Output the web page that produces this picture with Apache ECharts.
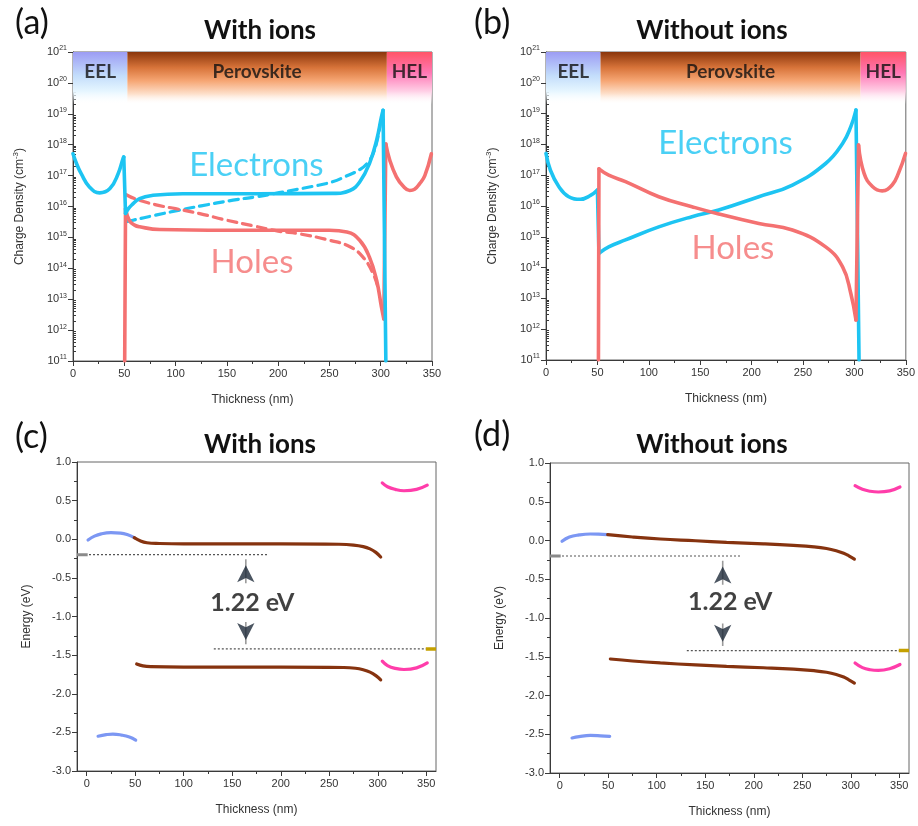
<!DOCTYPE html>
<html>
<head>
<meta charset="utf-8">
<script src="https://cdn.jsdelivr.net/npm/echarts@6/dist/echarts.min.js"></script>
<style>
  html, body { margin: 0; padding: 0; background: #fff; }
  #chart { width: 918px; height: 826px; }
</style>
</head>
<body>
<div id="chart"></div>
<script>
// ---------- axis ticks ----------
const thicknessTicks = [0, 50, 100, 150, 200, 250, 300, 350];
const thicknessMinorTicks = [25, 75, 125, 175, 225, 275, 325];
// top decade nudged just inside the axis extent so it is not clipped
const densityDecades = [1e11, 1e12, 1e13, 1e14, 1e15, 1e16, 1e17, 1e18, 1e19, 1e20, 0.99999e21];

// ---------- layer boundaries (nm) ----------
const layerNames = ['EEL', 'Perovskite', 'HEL'];
const layerEdges = [0, 53, 306, 350];

// ---------- (a) charge density with ions: [thickness nm, cm^-3] ----------
const electronsIonsEEL = [[0, 5.1e17], [4, 2.2e17], [8, 1.15e17], [16, 4.3e16], [26, 2.75e16], [36, 3.8e16], [44, 1.15e17], [48.7, 3.5e17], [49.5, 4.0e17]];
const electronsIonsPvk = [[51.2, 6.0e15], [54, 8.5e15], [57, 1.1e16], [65, 1.8e16], [78, 2.3e16], [107, 2.6e16], [180, 2.6e16], [253, 2.65e16], [270, 3.3e16], [279.5, 6.2e16], [289, 2.45e17], [296, 1.4e18], [300.7, 7.9e18], [302.3, 1.3e19]];
const electronsIonsEnd = [[305, 1e11]];
const holesIonsStart = [[50.4, 1e11]];
const holesIonsPvk = [[51.2, 8.5e15], [55, 3.5e15], [60, 2.5e15], [65, 2.2e15], [84.5, 1.8e15], [150, 1.7e15], [250, 1.7e15], [267, 1.5e15], [279.5, 8.1e14], [289, 2.3e14], [296, 4.1e13], [300.7, 5.6e12], [303, 2.3e12]];
const holesIonsHEL = [[305, 1.05e18], [308.8, 3.2e17], [315.3, 9.1e16], [322, 4.5e16], [328.3, 3.3e16], [333, 3.6e16], [338, 5.5e16], [343, 1.0e17], [349.4, 5.1e17]];
// dashed reference profiles inside the perovskite
const electronsRef = [[52, 3.2e15], [58.5, 3.6e15], [80, 5.2e15], [100, 7.2e15], [125, 1.05e16], [156, 1.6e16], [180, 2.1e16], [201, 2.8e16], [234, 4.5e16], [253, 6.3e16], [266, 9.5e16], [280, 1.6e17], [288, 2.8e17], [293, 5.6e17], [297, 1.6e18], [299.5, 4.5e18]];
const holesRef = [[52, 2.4e16], [60, 1.8e16], [80, 1.15e16], [100, 8.5e15], [123.5, 5.9e15], [150, 3.6e15], [175, 2.4e15], [200, 1.6e15], [221, 1.3e15], [250, 8.1e14], [270, 5.0e14], [282.7, 2.3e14], [292.5, 6.8e13], [298, 2.0e13]];

// ---------- (b) charge density without ions ----------
const electronsNoIonsEEL = [[0, 5.1e17], [4.3, 1.45e17], [12.4, 4.3e16], [22.1, 2.0e16], [33.5, 1.65e16], [43.3, 2.2e16], [50, 3.3e16]];
const electronsNoIonsPvk = [[51.5, 2.9e14], [61, 4.7e14], [77.3, 7.9e14], [109.7, 2.1e15], [142, 4.5e15], [168, 7.4e15], [207, 2.0e16], [239.7, 4.8e16], [272, 2.4e17], [288.5, 1.07e18], [296.4, 3.7e18], [301.5, 1.3e19]];
const electronsNoIonsEnd = [[304.5, 1e11]];
const holesNoIonsStart = [[51, 1e11]];
const holesNoIonsPvk = [[51.5, 1.6e17], [61, 1.0e17], [77.3, 6.2e16], [109.7, 2.0e16], [142, 9.5e15], [168, 5.5e15], [207, 2.7e15], [239.7, 1.66e15], [272, 4.7e14], [288.5, 1.05e14], [296.4, 1.5e13], [301.5, 2.0e12]];
const holesNoIonsHEL = [[304, 9.5e17], [309.4, 1.15e17], [317.5, 4.3e16], [327, 3.1e16], [336.7, 4.8e16], [343, 1.2e17], [349.7, 5.1e17]];

// ---------- (c) band diagram with ions: [thickness nm, eV] ----------
const eelCbIons = [[1.4, -0.01], [8, 0.04], [15, 0.07], [25, 0.085], [35, 0.08], [43, 0.055], [49, 0.02]];
const eelVbIons = [[11.7, -2.55], [20, -2.53], [27, -2.522], [36, -2.535], [44, -2.56], [50.5, -2.6]];
const pvkCbIons = [[49, 0.02], [55, -0.02], [62, -0.045], [75, -0.055], [100, -0.06], [200, -0.06], [260, -0.065], [275, -0.075], [285, -0.095], [292, -0.125], [298, -0.17], [303, -0.23]];
const pvkVbIons = [[51.5, -1.615], [58, -1.64], [66, -1.65], [100, -1.655], [200, -1.655], [265, -1.66], [277, -1.67], [285, -1.69], [292, -1.72], [298, -1.765], [303, -1.82]];
const helCbIons = [[304.6, 0.73], [310, 0.68], [318, 0.645], [327, 0.628], [340, 0.645], [351, 0.70]];
const helVbIons = [[304.6, -1.578], [310, -1.635], [318, -1.672], [327, -1.686], [340, -1.665], [351, -1.60]];

// ---------- (d) band diagram without ions ----------
const eelCbNoIons = [[2.4, -0.01], [10, 0.045], [20, 0.072], [31.6, 0.084], [40, 0.082], [48.8, 0.075]];
const eelVbNoIons = [[12.7, -2.548], [20, -2.53], [31.6, -2.515], [42, -2.52], [51.5, -2.528]];
const pvkCbNoIons = [[49.5, 0.075], [75, 0.045], [103.7, 0.019], [140, -0.003], [172, -0.024], [210, -0.043], [241, -0.063], [262, -0.082], [275, -0.103], [285, -0.132], [292.7, -0.165], [298, -0.198], [303.7, -0.24]];
const pvkVbNoIons = [[52.2, -1.529], [75, -1.555], [103.7, -1.58], [140, -1.605], [172, -1.624], [210, -1.642], [241, -1.66], [262, -1.68], [275, -1.70], [285, -1.728], [292.7, -1.762], [298, -1.797], [303.7, -1.84]];
const helCbNoIons = [[304.4, 0.707], [312, 0.66], [320, 0.635], [328.4, 0.626], [340, 0.64], [350.7, 0.69]];
const helVbNoIons = [[304.4, -1.58], [312, -1.64], [320, -1.668], [328.4, -1.676], [340, -1.655], [350.7, -1.60]];

// quasi-Fermi levels (eV) and the gap between them
const fermiElectron = -0.20;
const fermiHole = -1.42;
const splitLabel = '1.22 eV';
const fermiElectronSpan = [-10, 186];
const fermiHoleSpan = [131, 360];

// ---------- styling ----------
const CYAN = '#1DC4F2';
const SALMON = '#F47171';
const BLUE = '#7C97F3';
const BROWN = '#86330F';
const PINK = '#FF3DAA';
const AXIS = '#3a3a3a';
const tickFont = { color: '#333', fontFamily: 'Liberation Sans', fontSize: 11 };

const grids = [
  { left: 73, top: 52, width: 359, height: 309 },
  { left: 546, top: 52, width: 360, height: 308 },
  { left: 77, top: 462, width: 359, height: 309 },
  { left: 550, top: 463, width: 359, height: 310 }
].map(g => Object.assign({ show: true, borderColor: '#666', borderWidth: 1, backgroundColor: 'transparent' }, g));

function nameStyle() {
  return { color: '#333', fontFamily: 'Liberation Sans', fontSize: 12,
    rich: { sup: { color: '#333', fontFamily: 'Liberation Sans', fontSize: 8, padding: [0, 0, 7, 0] } } };
}

function thicknessAxisLinear(gi) {
  return {
    type: 'value', gridIndex: gi, position: 'bottom', min: 0, max: 350, interval: 50,
    name: 'Thickness (nm)', nameLocation: 'middle', nameGap: 33, nameTextStyle: nameStyle(),
    axisLine: { onZero: false, lineStyle: { color: AXIS } },
    axisTick: { length: 5, lineStyle: { color: AXIS } },
    minorTick: { show: true, splitNumber: 2, length: 3, lineStyle: { color: AXIS } },
    axisLabel: Object.assign({ margin: 7 }, tickFont),
    splitLine: { show: false }
  };
}
function thicknessAxisPadded(gi) {
  return {
    type: 'value', gridIndex: gi, position: 'bottom', min: -10, max: 360,
    name: 'Thickness (nm)', nameLocation: 'middle', nameGap: 33, nameTextStyle: nameStyle(),
    axisLine: { onZero: false, lineStyle: { color: AXIS } },
    axisTick: { length: 5, customValues: thicknessTicks, lineStyle: { color: AXIS } },
    axisLabel: Object.assign({ margin: 7, customValues: thicknessTicks }, tickFont),
    splitLine: { show: false }
  };
}
function thicknessMinorAxis(gi) {
  return {
    type: 'value', gridIndex: gi, position: 'bottom', min: -10, max: 360,
    axisLine: { show: false, onZero: false },
    axisTick: { length: 3, customValues: thicknessMinorTicks, lineStyle: { color: AXIS } },
    axisLabel: { show: false, customValues: thicknessMinorTicks },
    splitLine: { show: false }
  };
}

const logMinorValues = [];
for (let e = 11; e < 21; e++) for (let m = 2; m <= 9; m++) logMinorValues.push(m * Math.pow(10, e));

function densityAxis(gi) {
  return {
    type: 'log', logBase: 10, gridIndex: gi, position: 'left', min: 1e11, max: 1e21,
    name: 'Charge Density (cm{sup|-3})', nameLocation: 'middle', nameGap: 46, nameTextStyle: nameStyle(),
    axisLine: { onZero: false, lineStyle: { color: AXIS } },
    axisTick: { length: 5, customValues: densityDecades, lineStyle: { color: AXIS } },
    axisLabel: Object.assign({
      margin: 6, customValues: densityDecades,
      formatter: v => '10{s|' + Math.round(Math.log10(v)) + '}',
      rich: { s: { color: '#333', fontFamily: 'Liberation Sans', fontSize: 7, padding: [0, 0, 7, 0] } }
    }, tickFont),
    splitLine: { show: false }
  };
}
function densityMinorAxis(gi) {
  return {
    type: 'log', logBase: 10, gridIndex: gi, position: 'left', min: 1e11, max: 1e21,
    axisLine: { show: false, onZero: false },
    axisTick: { inside: true, length: 3, customValues: logMinorValues, lineStyle: { color: AXIS } },
    axisLabel: { show: false, customValues: densityDecades },
    splitLine: { show: false }
  };
}
function energyAxis(gi) {
  return {
    type: 'value', gridIndex: gi, position: 'left', min: -3, max: 1, interval: 0.5,
    name: 'Energy (eV)', nameLocation: 'middle', nameGap: 44, nameTextStyle: nameStyle(),
    axisLine: { onZero: false, lineStyle: { color: AXIS } },
    axisTick: { length: 5, lineStyle: { color: AXIS } },
    minorTick: { show: true, splitNumber: 2, length: 3, lineStyle: { color: AXIS } },
    axisLabel: Object.assign({ margin: 6, formatter: v => v.toFixed(1) }, tickFont),
    splitLine: { show: false }
  };
}

// x axes: 0 (a), 1 (b), 2 (c), 3 (d), 4 (c minor), 5 (d minor)
const xAxes = [thicknessAxisLinear(0), thicknessAxisLinear(1), thicknessAxisPadded(2), thicknessAxisPadded(3), thicknessMinorAxis(2), thicknessMinorAxis(3)];
// y axes: 0 (a), 1 (b), 2 (c), 3 (d), 4 (a minor), 5 (b minor)
const yAxes = [densityAxis(0), densityAxis(1), energyAxis(2), energyAxis(3), densityMinorAxis(0), densityMinorAxis(1)];

const series = [];

// a curve made of smooth pieces joined by straight steps
function addCurve(ax, pieces, color, width, dash) {
  const base = { type: 'line', xAxisIndex: ax, yAxisIndex: ax, showSymbol: false, symbol: 'none', silent: true, z: 3 };
  pieces.forEach((p, i) => {
    if (p.length > 1) {
      series.push(Object.assign({}, base, { data: p, smooth: 0.45,
        lineStyle: { color, width, type: dash || 'solid', cap: 'round', join: 'round' } }));
    }
    if (i < pieces.length - 1) {
      series.push(Object.assign({}, base, { data: [p[p.length - 1], pieces[i + 1][0]], smooth: false,
        lineStyle: { color, width, type: dash || 'solid', cap: 'round', join: 'round' } }));
    }
  });
}

function textMarks(ax, items, style) {
  series.push({
    type: 'scatter', xAxisIndex: ax, yAxisIndex: ax, symbolSize: 1, silent: true, z: 10,
    itemStyle: { color: 'rgba(0,0,0,0)' },
    data: items.map(d => ({ value: [d[0], d[1]], label: Object.assign({ show: true, position: 'inside', formatter: d[2] }, style) }))
  });
}

// gradient layer strips across the top of the density plots
function layerStrips(ax) {
  const fade = stops => ({ type: 'linear', x: 0, y: 0, x2: 0, y2: 1, colorStops: stops.map(s => ({ offset: s[0], color: s[1] })) });
  const fills = [
    fade([[0, '#9C9CF4'], [0.45, '#C3DDFB'], [0.75, '#E6F6FF'], [1, 'rgba(255,255,255,0)']]),
    fade([[0, '#8A360C'], [0.3, '#D8743A'], [0.55, '#F6A674'], [0.8, '#FDE0CB'], [1, 'rgba(255,255,255,0)']]),
    fade([[0, '#FF5467'], [0.4, '#FF78B5'], [0.75, '#FFD0E6'], [1, 'rgba(255,255,255,0)']])
  ];
  series.push({
    type: 'line', xAxisIndex: ax, yAxisIndex: ax, data: [], silent: true, z: 1,
    markArea: { silent: true, label: { show: false },
      data: fills.map((f, i) => [{ xAxis: layerEdges[i], yAxis: 2e19, itemStyle: { color: f } }, { xAxis: layerEdges[i + 1], yAxis: 1e21 }]) }
  });
  textMarks(ax, layerNames.map((n, i) => [(layerEdges[i] + layerEdges[i + 1]) / 2, 2.2e20, n]),
    { color: '#111', fontFamily: 'Lato', fontWeight: 'bold', fontSize: 19 });
}

// ----- (a) -----
layerStrips(0);
addCurve(0, [electronsRef], CYAN, 3.2, [9, 6]);
addCurve(0, [holesRef], SALMON, 3.2, [9, 6]);
addCurve(0, [holesIonsStart, holesIonsPvk, holesIonsHEL], SALMON, 3.6);
addCurve(0, [electronsIonsEEL, electronsIonsPvk, electronsIonsEnd], CYAN, 3.6);
textMarks(0, [[178.8, 2.1e17, 'Electrons']], { color: CYAN, fontFamily: 'Lato', fontSize: 33 });
textMarks(0, [[174.5, 1.6e14, 'Holes']], { color: SALMON, fontFamily: 'Lato', fontSize: 33 });

// ----- (b) -----
layerStrips(1);
addCurve(1, [electronsNoIonsEEL, electronsNoIonsPvk, electronsNoIonsEnd], CYAN, 3.6);
addCurve(1, [holesNoIonsStart, holesNoIonsPvk, holesNoIonsHEL], SALMON, 3.6);
textMarks(1, [[174.7, 1.1e18, 'Electrons']], { color: CYAN, fontFamily: 'Lato', fontSize: 33 });
textMarks(1, [[181.8, 4.3e14, 'Holes']], { color: SALMON, fontFamily: 'Lato', fontSize: 33 });

// ----- band diagrams -----
function bandPanel(ax, bands, arrowX, labelPos) {
  const [eelCb, eelVb, pvkCb, pvkVb, helCb, helVb] = bands;
  const line = (data, color, width, extra) => series.push(Object.assign({
    type: 'line', xAxisIndex: ax, yAxisIndex: ax, data, showSymbol: false, symbol: 'none', silent: true, z: 3,
    smooth: 0.45, lineStyle: { color, width, cap: 'round' }
  }, extra || {}));
  // quasi-Fermi levels
  line([[fermiElectronSpan[0], fermiElectron], [fermiElectronSpan[1], fermiElectron]], '#555', 1.2, { smooth: false, lineStyle: { color: '#555', width: 1.2, type: [2, 2] }, z: 2 });
  line([[fermiHoleSpan[0], fermiHole], [fermiHoleSpan[1], fermiHole]], '#555', 1.2, { smooth: false, lineStyle: { color: '#555', width: 1.2, type: [2, 2] }, z: 2 });
  line([[-10, fermiElectron], [1, fermiElectron]], '#8a8a8a', 3, { smooth: false, lineStyle: { color: '#8a8a8a', width: 3 } });
  line([[349.5, fermiHole], [360, fermiHole]], '#C4A000', 3.5, { smooth: false, lineStyle: { color: '#C4A000', width: 3.5 } });
  // bands
  line(eelCb, BLUE, 3.2); line(eelVb, BLUE, 3.2);
  line(pvkCb, BROWN, 3.2); line(pvkVb, BROWN, 3.2);
  line(helCb, PINK, 3.2); line(helVb, PINK, 3.2);
  // arrows between the quasi-Fermi levels
  const upTail = -0.57, downTail = -1.07;
  line([[arrowX, upTail], [arrowX, fermiElectron - 0.06]], '#9a9a9a', 1.6, { smooth: false, lineStyle: { color: '#9a9a9a', width: 1.6 } });
  line([[arrowX, downTail], [arrowX, fermiHole + 0.06]], '#9a9a9a', 1.6, { smooth: false, lineStyle: { color: '#9a9a9a', width: 1.6 } });
  series.push({
    type: 'scatter', xAxisIndex: ax, yAxisIndex: ax, silent: true, z: 6, symbol: 'arrow',
    itemStyle: { color: '#1E2A3A' },
    data: [
      { value: [arrowX, fermiElectron - 0.025], symbolSize: [13, 17], symbolOffset: [0, '50%'], symbolRotate: 0 },
      { value: [arrowX, fermiHole + 0.005], symbolSize: [13, 17], symbolOffset: [0, '-50%'], symbolRotate: 180 }
    ]
  });
  textMarks(ax, [[labelPos[0], labelPos[1], splitLabel]], { color: '#111', fontFamily: 'Lato', fontWeight: 'bold', fontSize: 25 });
}

bandPanel(2, [eelCbIons, eelVbIons, pvkCbIons, pvkVbIons, helCbIons, helVbIons], 164, [170.7, -0.83]);
bandPanel(3, [eelCbNoIons, eelVbNoIons, pvkCbNoIons, pvkVbNoIons, helCbNoIons, helVbNoIons], 168, [175.7, -0.79]);

// ---------- panel titles and letters ----------
const panelTitles = [['With ions', 260, 31], ['Without ions', 712, 31], ['With ions', 260, 445], ['Without ions', 712, 445]];
const panelLetters = [['(a)', 15, 23], ['(b)', 474, 23], ['(c)', 15, 437], ['(d)', 474, 435]];
const graphics = [];
panelTitles.forEach(t => graphics.push({ type: 'text', x: t[1], y: t[2], silent: true,
  style: { text: t[0], align: 'center', verticalAlign: 'middle', fill: '#111', font: 'bold 26px Lato' } }));
panelLetters.forEach(t => graphics.push({ type: 'text', x: t[1], y: t[2], silent: true,
  style: { text: t[0], align: 'left', verticalAlign: 'middle', fill: '#111', font: '34px Lato' } }));

const chart = echarts.init(document.getElementById('chart'), null, { renderer: 'canvas' });
chart.setOption({
  animation: false,
  backgroundColor: '#fff',
  grid: grids,
  xAxis: xAxes,
  yAxis: yAxes,
  series,
  graphic: graphics
});
</script>
</body>
</html>
